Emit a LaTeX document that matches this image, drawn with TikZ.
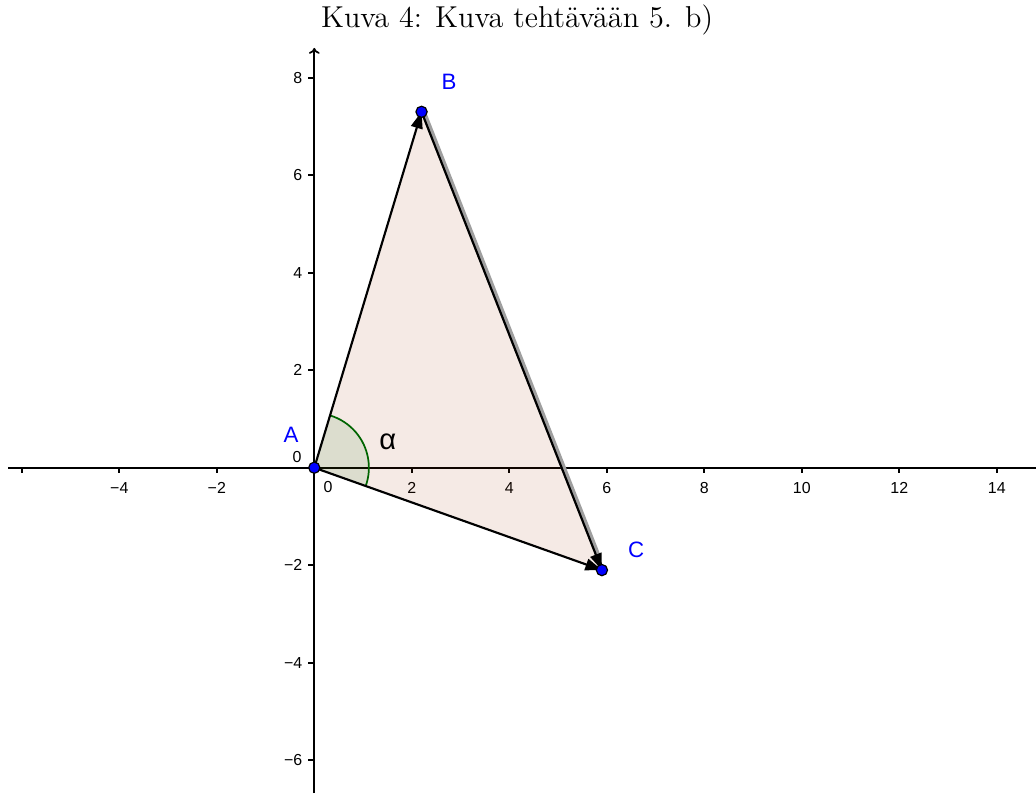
\documentclass[tikz,border=0pt]{standalone}
\usepackage{fontspec}
\newfontfamily\lsans{Liberation Sans}
\usetikzlibrary{arrows.meta}
\definecolor{polyfill}{RGB}{153,51,0}
\definecolor{anggreen}{RGB}{0,100,0}
\definecolor{ptblue}{RGB}{0,0,255}
\tikzset{
  axisline/.style={line width=1pt, black},
  tickmark/.style={line width=1pt, black},
  ticklabel/.style={font=\lsans\fontsize{9.3}{10}\selectfont, inner sep=0pt},
  ptlabel/.style={font=\lsans\fontsize{13}{15}\selectfont, text=ptblue, inner sep=0pt},
  vec/.style={line width=1.25pt, black, -{Triangle[length=0.34cm, width=0.24cm]}},
  ptdot/.style={circle, fill=ptblue, draw=black, line width=0.7pt, inner sep=0pt, minimum size=0.23cm},
}
\begin{document}
\begin{tikzpicture}[x=1cm,y=1cm]
\useasboundingbox (-6.447,-6.673) rectangle (14.804,9.594);
% title
\node[anchor=base, font=\fontsize{14}{16}\selectfont, inner sep=0pt] (title) at (4.16,9.02) {\scalebox{1.26}{Kuva 4: Kuva tehtävään 5. b)}};
% axes
\coordinate (xl) at (-6.28,0);
\coordinate (xr) at (14.804,0);
\coordinate (yb) at (0,-6.673);
\coordinate (yt) at (0,8.61);
\draw[axisline] (xl) -- (xr);
\draw[axisline, -{To[length=0.12cm, width=0.22cm]}] (yb) -- (yt);
\foreach \x in {-6,-4,-2,2,4,6,8,10,12,14} \draw[tickmark] (\x,0) -- (\x,-0.11);
\foreach \y in {-6,-4,-2,2,4,6,8} \draw[tickmark] (0,\y) -- (-0.13,\y);
\foreach \x in {-4,-2,2,4,6,8,10,12,14} {
  \ifnum\x<0
    \node[ticklabel] (xlab\x) at (\x,-0.41) {−\the\numexpr-\x\relax};
  \else
    \node[ticklabel] (xlab\x) at (\x,-0.41) {\x};
  \fi
}
\foreach \y in {-6,-4,-2,2,4,6,8} {
  \ifnum\y<0
    \node[ticklabel, anchor=east] (ylab\y) at (-0.24,\y) {−\the\numexpr-\y\relax};
  \else
    \node[ticklabel, anchor=east] (ylab\y) at (-0.24,\y) {\y};
  \fi
}
\node[ticklabel] (x0) at (0.28,-0.40) {0};
\node[ticklabel] (y0) at (-0.355,0.22) {0};
% points
\coordinate (A) at (0,0);
\coordinate (B) at (2.2,7.3);
\coordinate (C) at (5.9,-2.1);
% polygon fill
\fill[polyfill, opacity=0.1] (A) -- (B) -- (C) -- cycle;
% angle
\fill[anggreen, opacity=0.1] (A) -- (-19.59:1.12) arc[start angle=-19.59, end angle=73.23, radius=1.12] -- cycle;
\draw[anggreen, line width=1pt] (-19.59:1.12) arc[start angle=-19.59, end angle=73.23, radius=1.12];
\node[font=\lsans\fontsize{17}{19}\selectfont, inner sep=0pt] (alpha) at (1.51,0.53) {α};
% vectors
\draw[gray!75, line width=3pt, shorten >=0.3cm, transform canvas={xshift=1pt}] (B) -- (C);
\draw[vec] (A) -- (B);
\draw[vec] (B) -- (C);
\draw[vec] (A) -- (C);
% dots
\node[ptdot] (dA) at (A) {};
\node[ptdot] (dB) at (B) {};
\node[ptdot] (dC) at (C) {};
\node[ptlabel] (lA) at (-0.478,0.671) {A};
\node[ptlabel] (lB) at (2.763,7.912) {B};
\node[ptlabel] (lC) at (6.6,-1.688) {C};
\end{tikzpicture}
\end{document}
